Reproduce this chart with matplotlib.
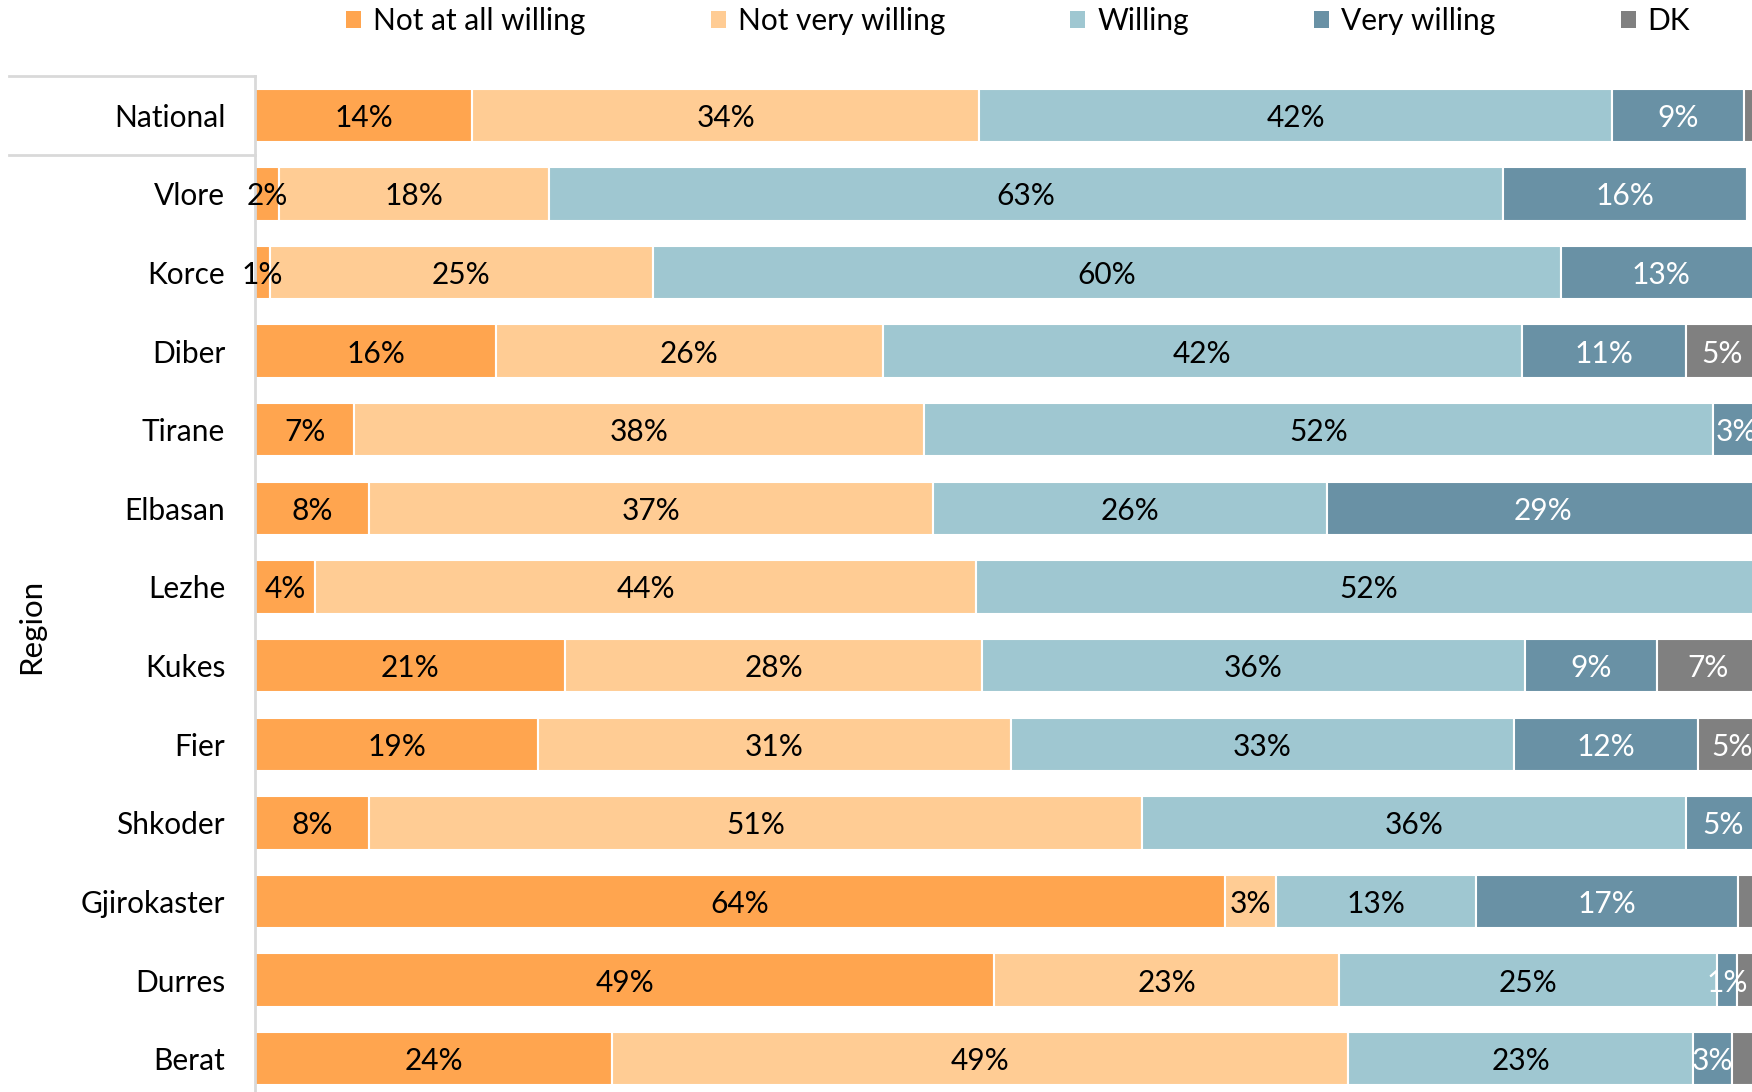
import matplotlib
matplotlib.use('Agg')
import matplotlib.pyplot as plt
from matplotlib.patches import Patch
import matplotlib.transforms as mtransforms

plt.rcParams['font.family'] = ['Lato', 'DejaVu Sans']

# Данные: регионы и доли ответов (%)
regions = ['National', 'Vlore', 'Korce', 'Diber', 'Tirane', 'Elbasan', 'Lezhe',
           'Kukes', 'Fier', 'Shkoder', 'Gjirokaster', 'Durres', 'Berat']
categories = ['Not at all willing', 'Not very willing', 'Willing', 'Very willing', 'DK']

not_at_all = [14.4, 1.6, 1.0, 16.0, 6.6, 7.6, 4.0, 20.6, 18.8, 7.6, 64.4, 49.1, 23.7]
not_very = [33.7, 17.9, 25.4, 25.7, 37.8, 37.4, 43.9, 27.7, 31.4, 51.3, 3.4, 22.9, 48.9]
willing = [42.0, 63.4, 60.3, 42.4, 52.4, 26.2, 52.1, 36.0, 33.4, 36.1, 13.3, 25.1, 22.9]
very_willing = [8.8, 16.2, 13.3, 10.9, 3.2, 28.6, 0.0, 8.8, 12.2, 5.0, 17.4, 1.3, 2.6]
dk = [1.1, 0.0, 0.0, 4.8, 0.0, 0.2, 0.0, 6.8, 4.6, 0.0, 1.4, 1.6, 1.9]

colors = ['#FFA54F', '#FFCC94', '#9FC7D1', '#6991A5', '#808080']
text_colors = ['black', 'black', 'black', 'white', 'white']

fig = plt.figure(figsize=(17.52, 10.92), dpi=100)
W, H = 1752, 1092
ax_left, ax_right = 255, 1761
ax_top, ax_bottom = 76, 1098
ax = fig.add_axes([ax_left / W, 1 - ax_bottom / H,
                   (ax_right - ax_left) / W, (ax_bottom - ax_top) / H])

y = list(range(len(regions)))
left = [0.0] * len(regions)
series = [not_at_all, not_very, willing, very_willing, dk]
for vals, color, tcol, name in zip(series, colors, text_colors, categories):
    ax.barh(y, vals, left=left, height=0.68, color=color,
            edgecolor='white', linewidth=1.5, label=name)
    for i, v in enumerate(vals):
        if v <= 0 or (name == 'DK' and v < 3):
            continue
        ax.text(left[i] + v / 2, i, '{}%'.format(round(v)),
                ha='center', va='center_baseline', fontsize=21.5, color=tcol)
    left = [l + v for l, v in zip(left, vals)]

ax.set_xlim(0, 100)
ax.set_ylim(len(regions) - 0.5, -0.5)
ax.set_xticks([])
ax.set_yticks(y)
ax.set_yticklabels(regions, fontsize=21.5)
ax.tick_params(axis='y', length=0, pad=21.5)
for s in ['top', 'right', 'bottom']:
    ax.spines[s].set_visible(False)
ax.spines['left'].set_color('#D9D9D9')
ax.spines['left'].set_linewidth(2)

# Разделители многоуровневой оси
trans = mtransforms.blended_transform_factory(ax.transAxes, ax.transData)
x0 = (9 - ax_left) / (ax_right - ax_left)
for yy in [-0.5, 0.5]:
    ax.plot([x0, 0], [yy, yy], color='#D9D9D9', linewidth=2,
            transform=trans, clip_on=False)

fig.text(31 / W, 1 - 626 / H, 'Region', rotation=90, ha='center', va='center',
         fontsize=22.5)

handles = [Patch(facecolor=c, edgecolor='none') for c in colors]
fig.legend(handles, categories, loc='center left',
           bbox_to_anchor=(346 / W, 1 - 21 / H), ncol=5, frameon=False,
           fontsize=21.5, handlelength=0.5, handleheight=0.5,
           handletextpad=0.4, columnspacing=4.2, borderpad=0,
           borderaxespad=0)

plt.savefig('out.png', dpi=100)
plt.close()
